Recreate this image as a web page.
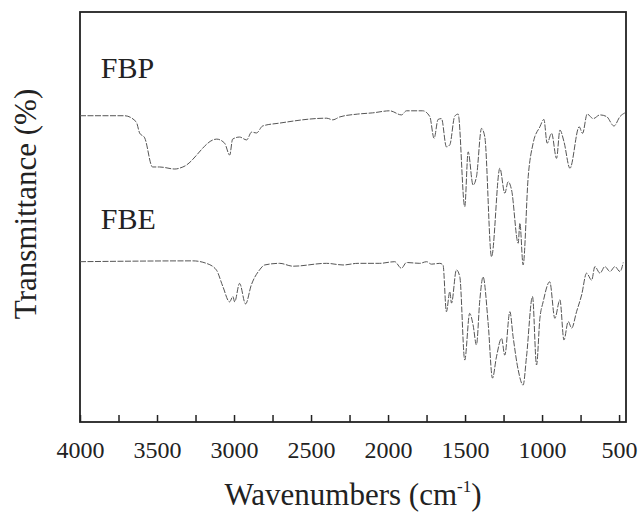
<!DOCTYPE html>
<html lang="en">
  <head>
    <meta charset="utf-8" />
    <title>FTIR spectra FBP / FBE</title>
    <script src="https://cdn.jsdelivr.net/npm/d3@7"></script>
    <style type="text/css">
      body {
        margin: 0;
        background: #fff;
      }
      svg text {
        fill: #222;
      }
      .spectrum {
        fill: none;
        stroke: #555;
        stroke-width: 1;
        stroke-dasharray: 6, 1.5;
      }
    </style>
  </head>
  <body>
    <div id="chart"></div>
    <script type="text/javascript">
      /*******************************************
       * data
       *******************************************/

      const fbpWavenumber = [
        4000, 3711, 3635, 3613, 3580, 3529, 3483, 3384, 3332, 3113, 3061, 3028,
        3009, 2964, 2918, 2886, 2854, 2814, 2704, 2398, 2359, 2314, 2197, 2100,
        1989, 1913, 1880, 1775, 1729, 1701, 1675, 1653, 1621, 1599, 1567, 1545,
        1502, 1480, 1448, 1426, 1393, 1372, 1328, 1274, 1242, 1220, 1198, 1155,
        1144, 1123, 1090, 1058, 1014, 988, 967, 938, 906, 884, 858, 819, 759,
        737, 707, 668, 624, 581, 533, 494, 462,
      ];
      const fbpValue = [
        74.7, 74.7, 73.2, 70.5, 69.3, 62.2, 62.2, 61.7, 62.2, 69.0, 68.0, 65.1,
        69.0, 69.5, 68.8, 70.7, 70.5, 72.2, 72.9, 74.1, 73.7, 74.4, 75.1, 75.4,
        75.9, 74.9, 75.9, 75.9, 74.5, 69.2, 73.8, 74.0, 67.1, 67.6, 74.6, 75.1,
        52.5, 65.9, 57.8, 59.8, 71.6, 69.6, 40.3, 61.9, 55.8, 58.6, 56.6, 43.6,
        48.5, 38.3, 59.8, 68.0, 72.0, 73.8, 68.0, 70.4, 64.3, 71.2, 68.4, 61.9,
        72.0, 70.4, 75.1, 74.0, 74.9, 74.5, 72.2, 74.5, 75.4,
      ];

      const fbeWavenumber = [
        4000, 3267, 3180, 3115, 3072, 3029, 3007, 2996, 2964, 2925, 2888, 2834,
        2801, 2704, 2617, 2400, 2292, 2195, 2054, 1957, 1913, 1880, 1794, 1750,
        1718, 1664, 1643, 1621, 1599, 1588, 1556, 1534, 1502, 1470, 1448, 1426,
        1404, 1383, 1350, 1322, 1296, 1263, 1242, 1209, 1188, 1155, 1123, 1101,
        1062, 1036, 1014, 993, 950, 917, 884, 858, 830, 808, 776, 743, 711, 678,
        657, 624, 592, 559, 527, 494, 473,
      ];
      const fbeValue = [
        39.1, 39.3, 38.7, 37.1, 33.0, 29.3, 30.6, 29.3, 33.8, 28.8, 33.4, 37.1,
        38.3, 38.7, 38.0, 38.7, 38.3, 38.7, 38.7, 39.1, 37.5, 38.9, 38.7, 39.1,
        38.5, 38.7, 38.3, 26.9, 31.8, 29.0, 37.1, 35.4, 15.1, 26.5, 23.7, 18.8,
        29.8, 35.4, 24.1, 10.7, 15.9, 20.4, 16.3, 26.9, 20.8, 12.7, 9.0, 15.9,
        30.6, 13.9, 25.3, 29.3, 34.2, 25.3, 29.8, 20.0, 24.5, 22.9, 26.9, 31.0,
        36.3, 34.6, 37.9, 36.3, 37.9, 36.7, 37.9, 36.7, 38.9,
      ];

      const seriesNames = ["FBP", "FBE"];
      const xTicks = [
        4000, 3750, 3500, 3250, 3000, 2750, 2500, 2250, 2000, 1750, 1500, 1250,
        1000, 750, 500,
      ];

      const series = [
        { name: seriesNames[0], points: fbpWavenumber.map((w, i) => [w, fbpValue[i]]) },
        { name: seriesNames[1], points: fbeWavenumber.map((w, i) => [w, fbeValue[i]]) },
      ];

      const serif = "Liberation Serif";

      /********************************************
       * svg
       ********************************************/

      const width = 642;
      const height = 513;
      const margin = { top: 12, right: 16, bottom: 91, left: 80 };

      const svg = d3
        .select("#chart")
        .append("svg")
        .attr("width", width)
        .attr("height", height)
        .attr("font-family", serif);

      /*********************************************
       * scales
       *********************************************/

      const xScale = d3
        .scaleLinear()
        .domain([4000, 455])
        .range([margin.left, width - margin.right]);

      const yScale = d3
        .scaleLinear()
        .domain([0, 100])
        .range([height - margin.bottom, margin.top]);

      /*********************************************
       * axes
       *********************************************/

      const xAxis = d3
        .axisBottom(xScale)
        .tickValues(xTicks)
        .tickSizeInner(-7)
        .tickSizeOuter(0)
        .tickPadding(19)
        .tickFormat((d) => (d % 500 === 0 ? d : ""));

      const gx = svg
        .append("g")
        .attr("class", "x axis")
        .attr("transform", `translate(0, ${height - margin.bottom})`)
        .call(xAxis)
        .attr("font-family", serif);

      gx.select(".domain").remove();
      gx.selectAll(".tick line").attr("stroke", "#222").attr("stroke-width", 1.5);
      gx.selectAll(".tick text")
        .attr("font-size", 24)
        .attr("fill", "#222");

      // frame
      svg
        .append("rect")
        .attr("x", margin.left)
        .attr("y", margin.top)
        .attr("width", width - margin.left - margin.right)
        .attr("height", height - margin.top - margin.bottom)
        .attr("fill", "none")
        .attr("stroke", "#222")
        .attr("stroke-width", 1.8);

      /*********************************************
       * spectra
       *********************************************/

      const line = d3
        .line()
        .x((d) => xScale(d[0]))
        .y((d) => yScale(d[1]))
        .curve(d3.curveMonotoneX);

      svg
        .selectAll("path.spectrum")
        .data(series)
        .enter()
        .append("path")
        .attr("class", "spectrum")
        .attr("d", (d) => line(d.points));

      // series labels
      const labelPos = [
        { x: 3865, y: 84 },
        { x: 3865, y: 47 },
      ];
      svg
        .selectAll("text.series")
        .data(series)
        .enter()
        .append("text")
        .attr("class", "series")
        .attr("x", (d, i) => xScale(labelPos[i].x))
        .attr("y", (d, i) => yScale(labelPos[i].y))
        .attr("font-size", 30)
        .text((d) => d.name);

      /*********************************************
       * axis titles
       *********************************************/

      const xTitle = svg
        .append("text")
        .attr("x", (margin.left + width - margin.right) / 2)
        .attr("y", 505)
        .attr("text-anchor", "middle")
        .attr("font-size", 31);
      xTitle.append("tspan").text("Wavenumbers (cm");
      xTitle.append("tspan").attr("font-size", 17).attr("dy", -13).text("-1");
      xTitle.append("tspan").attr("dy", 13).text(")");

      svg
        .append("text")
        .attr("transform", "translate(36, 204) rotate(-90)")
        .attr("text-anchor", "middle")
        .attr("font-size", 31)
        .text("Transmittance (%)");
    </script>
  </body>
</html>
